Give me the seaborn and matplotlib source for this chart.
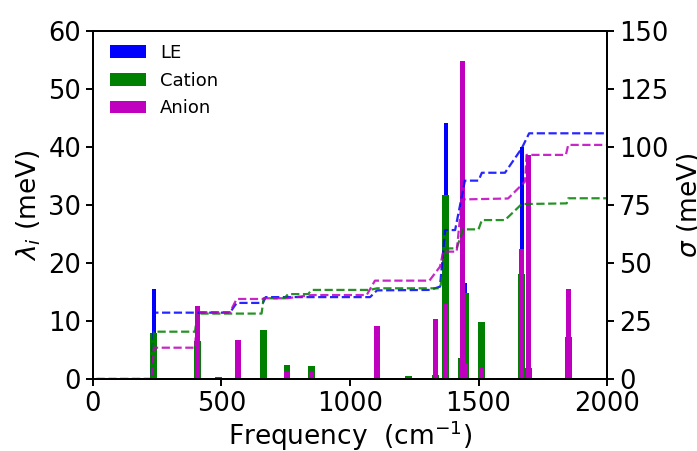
import matplotlib
matplotlib.use("Agg")
import matplotlib.pyplot as plt
import seaborn as sns
import pandas as pd

# Reorganisation energy per vibrational mode (meV) for each state
freq_le = [237, 1372, 1447, 1668]
lam_le = [15.5, 44.2, 16.5, 40.0]

freq_cat = [237, 406, 490, 664, 755, 851, 1105, 1229, 1331, 1372, 1432, 1450, 1512, 1668, 1693, 1851]
lam_cat = [7.9, 6.6, 0.3, 8.4, 2.4, 2.2, 0.9, 0.5, 0.7, 31.8, 3.6, 14.8, 9.9, 18.1, 1.9, 7.2]

freq_an = [406, 564, 755, 851, 1105, 1331, 1372, 1438, 1448, 1512, 1668, 1693, 1851]
lam_an = [12.6, 6.7, 1.2, 1.2, 9.1, 10.3, 12.9, 54.9, 2.7, 1.95, 22.5, 38.6, 15.6]

# Cumulative coupling sigma (meV) versus frequency
sig_freq_le = [14, 228, 237, 533, 559, 661, 672, 1078, 1105, 1311, 1350, 1370, 1409,
               1447, 1500, 1513, 1603, 1668, 1697, 2000]
sig_le = [0, 0, 28.6, 28.6, 32.8, 32.8, 35.3, 35.3, 38.2, 38.4, 39.8, 64.2, 64.2,
          85.5, 85.5, 88.9, 88.9, 99.4, 105.9, 105.9]

sig_freq_cat = [14, 228, 237, 397, 406, 656, 664, 745, 759, 837, 851, 1078, 1105, 1350,
                1383, 1415, 1440, 1500, 1513, 1603, 1668, 1843, 1849, 2000]
sig_cat = [0, 0, 20.4, 20.4, 28.2, 28.2, 34.8, 34.8, 36.6, 36.6, 38.4, 38.4, 39.1, 39.1,
           56.3, 56.3, 64.5, 64.5, 68.5, 68.5, 75.4, 75.7, 77.9, 77.9]

sig_freq_an = [14, 228, 237, 397, 406, 533, 559, 661, 672, 755, 851, 1065, 1097, 1309,
               1350, 1363, 1415, 1435, 1615, 1681, 1687, 1840, 1849, 2000]
sig_an = [0, 0, 13.5, 13.5, 28.8, 28.8, 34.5, 34.5, 34.8, 34.8, 36.2, 36.2, 42.4, 42.4,
          48.4, 54.9, 54.9, 77.4, 77.8, 85.1, 96.6, 96.6, 100.9, 100.9]

labels = ["LE", "Cation", "Anion"]
colors = ["#0000ff", "#008000", "#bf00bf"]
widths = [16, 27, 20]

sns.set_style("ticks")
plt.rcParams.update({
    "font.family": ["DejaVu Sans"],
    "axes.edgecolor": "black",
    "axes.linewidth": 1.4,
    "text.color": "black",
    "axes.labelcolor": "black",
    "xtick.color": "black",
    "ytick.color": "black",
    "xtick.major.width": 1.4,
    "ytick.major.width": 1.4,
    "xtick.major.size": 5,
    "ytick.major.size": 5,
    "xtick.direction": "out",
    "ytick.direction": "out",
})

fig = plt.figure(figsize=(6.97, 4.51), dpi=100)
ax = fig.add_axes([0.1334, 0.1596, 0.7375, 0.7717])
ax2 = ax.twinx()

bar_sets = [(freq_le, lam_le), (freq_cat, lam_cat), (freq_an, lam_an)]
for (fx, lv), lab, col, w in zip(bar_sets, labels, colors, widths):
    ax.bar(fx, lv, width=w, color=col, label=lab, linewidth=0, zorder=2)

line_sets = [(sig_freq_le, sig_le), (sig_freq_cat, sig_cat), (sig_freq_an, sig_an)]
for (fx, sv), col in zip(line_sets, colors):
    df = pd.DataFrame({"freq": fx, "sigma": sv})
    sns.lineplot(data=df, x="freq", y="sigma", ax=ax2, color=col, linestyle="--",
                 linewidth=1.6, estimator=None, sort=False, alpha=0.85)

ax.set_xlim(0, 2000)
ax.set_ylim(0, 60)
ax2.set_ylim(0, 150)
ax.set_xticks([0, 500, 1000, 1500, 2000])
ax.set_yticks([0, 10, 20, 30, 40, 50, 60])
ax2.set_yticks([0, 25, 50, 75, 100, 125, 150])
ax.tick_params(labelsize=18.5)
ax2.tick_params(labelsize=18.5)

ax.set_xlabel(r"Frequency  (cm$^{-1}$)", fontsize=19, labelpad=1)
ax.set_ylabel(r"$\lambda_i$ (meV)", fontsize=19, labelpad=4)
ax2.set_ylabel(r"$\sigma$ (meV)", fontsize=19, labelpad=5)

ax.legend(loc="upper left", bbox_to_anchor=(0.008, 1.0), frameon=False, fontsize=13,
          handlelength=2.0, labelspacing=0.55, borderaxespad=0.2, borderpad=0.5)

fig.savefig("out.png", dpi=100)
